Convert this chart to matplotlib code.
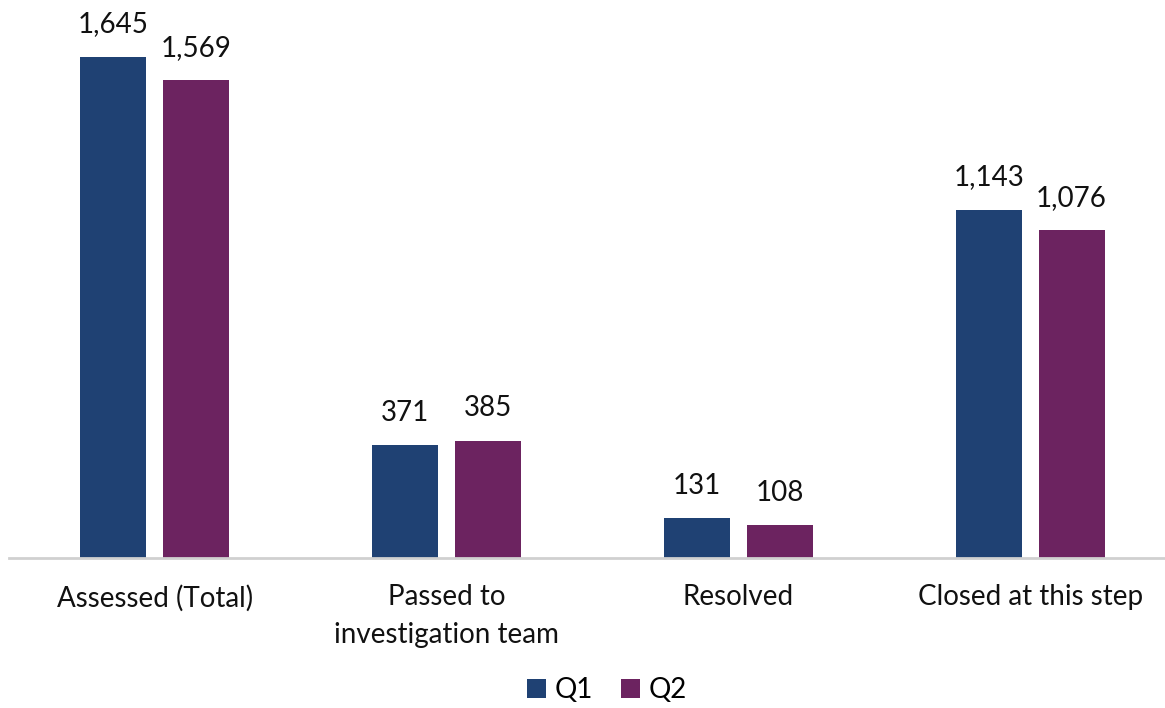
import matplotlib
matplotlib.use("Agg")
import matplotlib.pyplot as plt
import numpy as np

categories = ["Assessed (Total)", "Passed to\ninvestigation team", "Resolved", "Closed at this step"]
q1_values = [1645, 371, 131, 1143]
q2_values = [1569, 385, 108, 1076]
series_names = ["Q1", "Q2"]

Q1_COLOR = "#1F4173"
Q2_COLOR = "#6C2360"

plt.rcParams["font.family"] = ["Lato", "DejaVu Sans"]

fig = plt.figure(figsize=(11.65, 7.08), dpi=100)
ax = fig.add_axes([9 / 1165, 150 / 708, 1167 / 1165, 558 / 708])

x = np.arange(len(categories))
offset = 0.142
width = 0.226
b1 = ax.bar(x - offset, q1_values, width, color=Q1_COLOR, label=series_names[0])
b2 = ax.bar(x + offset, q2_values, width, color=Q2_COLOR, label=series_names[1])

for bars in (b1, b2):
    ax.bar_label(bars, labels=[f"{v:,}" for v in bars.datavalues],
                 padding=14, fontsize=20, color="#111111")

ax.set_xlim(-0.5, 3.5)
ax.set_ylim(0, 1832)
ax.set_xticks([])
ax.set_yticks([])

# category labels: tick labels ignore linespacing, so annotate under the axis
for xi, cat in zip(x, categories):
    ax.annotate(cat, (xi, 0), xycoords=ax.get_xaxis_transform(),
                xytext=(0, -19), textcoords="offset points",
                ha="center", va="top", fontsize=20, color="#111111",
                linespacing=1.55, annotation_clip=False)

for side in ("top", "right", "left"):
    ax.spines[side].set_visible(False)
ax.spines["bottom"].set_color("#D0D0D0")
ax.spines["bottom"].set_linewidth(2)

fig.legend(loc="center", bbox_to_anchor=(0.521, 0.025), ncol=2, frameon=False,
           fontsize=20, handlelength=0.7, handleheight=0.7, handletextpad=0.3,
           columnspacing=1.0)

fig.savefig("out.png", dpi=100)
